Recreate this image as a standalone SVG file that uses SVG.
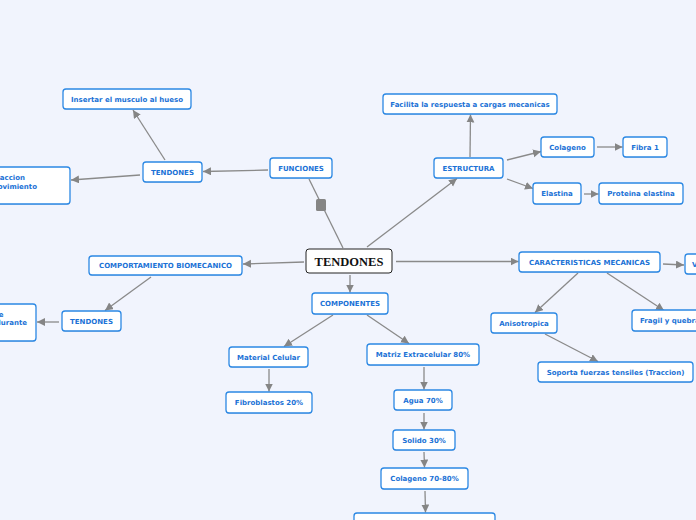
<svg xmlns="http://www.w3.org/2000/svg" width="696" height="520" viewBox="0 0 696 520">
<defs>
<marker id="ah" markerUnits="userSpaceOnUse" markerWidth="9" markerHeight="9" refX="8" refY="4" orient="auto">
<path d="M0,0 L8,4 L0,8 z" fill="#858585"/>
</marker>
</defs>
<style>
.bg{fill:#f1f4fd}
.n rect.s{fill:#9aa6c0;opacity:0.35}
.n rect.b{fill:#ffffff;stroke:#2b88e4;stroke-width:1.3}
.n text{font-family:"DejaVu Sans",Verdana,sans-serif;font-weight:bold;font-size:7px;fill:#1b72d6;text-anchor:middle}
.c line{stroke:#8a8a8a;stroke-width:1.3;fill:none}
.c line.a{marker-end:url(#ah)}
.root rect{fill:#fff;stroke:#222;stroke-width:1}
.root text{font-family:"Liberation Serif","Times New Roman",serif;font-weight:bold;font-size:12.5px;fill:#111;text-anchor:middle}
</style>
<rect class="bg" x="0" y="0" width="696" height="520"/>

<g id="connectors" class="c">
<line x1="309" y1="179" x2="343" y2="248"/>
<line class="a" x1="268" y1="170" x2="203" y2="171.5"/>
<line class="a" x1="165" y1="160" x2="133" y2="110"/>
<line class="a" x1="140" y1="175" x2="71" y2="180"/>
<line class="a" x1="367" y1="247" x2="457" y2="178.5"/>
<line class="a" x1="470" y1="157" x2="470.5" y2="114.5"/>
<line class="a" x1="507" y1="160" x2="541" y2="151.5"/>
<line class="a" x1="507" y1="179" x2="533" y2="188.5"/>
<line class="a" x1="597" y1="147" x2="622.5" y2="147"/>
<line class="a" x1="584" y1="194" x2="598.5" y2="194"/>
<line class="a" x1="304" y1="262" x2="243" y2="264"/>
<line class="a" x1="151" y1="277" x2="105" y2="310.5"/>
<line class="a" x1="59" y1="322" x2="37" y2="322"/>
<line class="a" x1="350" y1="275" x2="350" y2="292.5"/>
<line class="a" x1="333" y1="315" x2="284" y2="346.5"/>
<line class="a" x1="367" y1="315" x2="409" y2="343.5"/>
<line class="a" x1="269" y1="369" x2="269" y2="391.5"/>
<line class="a" x1="424" y1="367" x2="424" y2="389.5"/>
<line class="a" x1="424" y1="413" x2="424" y2="429.5"/>
<line class="a" x1="424" y1="452" x2="424.5" y2="467.5"/>
<line class="a" x1="425" y1="491" x2="425.5" y2="512.5"/>
<line class="a" x1="396" y1="261.5" x2="518.5" y2="261.5"/>
<line class="a" x1="663" y1="264" x2="684" y2="265"/>
<line class="a" x1="578" y1="273" x2="535" y2="312.5"/>
<line class="a" x1="607" y1="273" x2="664" y2="310.5"/>
<line class="a" x1="545" y1="334" x2="598" y2="361.5"/>
</g>
<rect x="316" y="199" width="10" height="12" rx="1.5" fill="#858585"/>

<g id="root" class="root">
<rect x="306" y="249" width="86" height="24" rx="3"/>
<text x="349" y="265.5">TENDONES</text>
</g>

<g id="funciones" class="n"><rect class="s" x="270" y="159" width="62" height="20" rx="3"/><rect class="b" x="270" y="158" width="62" height="20" rx="3"/><text x="301" y="170.5">FUNCIONES</text></g>
<g id="tendones1" class="n"><rect class="s" x="143" y="163" width="59" height="20" rx="3"/><rect class="b" x="143" y="162" width="59" height="20" rx="3"/><text x="172.5" y="174.5">TENDONES</text></g>
<g id="insertar" class="n"><rect class="s" x="63" y="90" width="128" height="20" rx="3"/><rect class="b" x="63" y="89" width="128" height="20" rx="3"/><text x="127" y="101.5">Insertar el musculo al hueso</text></g>
<g id="traccion" class="n"><rect class="s" x="-60" y="168" width="130" height="37" rx="3"/><rect class="b" x="-60" y="167" width="130" height="37" rx="3"/><text x="25" y="179.5" style="text-anchor:end">accion</text><text x="37" y="189" style="text-anchor:end">ovimiento</text></g>

<g id="estructura" class="n"><rect class="s" x="434" y="159" width="69" height="20" rx="3"/><rect class="b" x="434" y="158" width="69" height="20" rx="3"/><text x="468.5" y="170.5">ESTRUCTURA</text></g>
<g id="facilita" class="n"><rect class="s" x="383" y="95" width="174" height="20" rx="3"/><rect class="b" x="383" y="94" width="174" height="20" rx="3"/><text x="470" y="106.5">Facilita la respuesta a cargas mecanicas</text></g>
<g id="colageno" class="n"><rect class="s" x="541" y="138" width="53" height="20" rx="3"/><rect class="b" x="541" y="137" width="53" height="20" rx="3"/><text x="567.5" y="149.5">Colageno</text></g>
<g id="fibra1" class="n"><rect class="s" x="623" y="138" width="44" height="20" rx="3"/><rect class="b" x="623" y="137" width="44" height="20" rx="3"/><text x="645" y="149.5">Fibra 1</text></g>
<g id="elastina" class="n"><rect class="s" x="533" y="184" width="48" height="21" rx="3"/><rect class="b" x="533" y="183" width="48" height="21" rx="3"/><text x="557" y="196">Elastina</text></g>
<g id="proteina" class="n"><rect class="s" x="599" y="184" width="84" height="21" rx="3"/><rect class="b" x="599" y="183" width="84" height="21" rx="3"/><text x="641" y="196">Proteina elastina</text></g>

<g id="comportamiento" class="n"><rect class="s" x="89" y="257" width="153" height="19" rx="3"/><rect class="b" x="89" y="256" width="153" height="19" rx="3"/><text x="165.5" y="268">COMPORTAMIENTO BIOMECANICO</text></g>
<g id="tendones2" class="n"><rect class="s" x="62" y="312" width="59" height="20" rx="3"/><rect class="b" x="62" y="311" width="59" height="20" rx="3"/><text x="91.5" y="323.5">TENDONES</text></g>
<g id="durante" class="n"><rect class="s" x="-60" y="305" width="96" height="37" rx="3"/><rect class="b" x="-60" y="304" width="96" height="37" rx="3"/><text x="3.5" y="316.5" style="text-anchor:end">e</text><text x="27" y="325" style="text-anchor:end">durante</text></g>

<g id="componentes" class="n"><rect class="s" x="312" y="294" width="76" height="21" rx="3"/><rect class="b" x="312" y="293" width="76" height="21" rx="3"/><text x="350" y="306">COMPONENTES</text></g>
<g id="material" class="n"><rect class="s" x="229" y="348" width="79" height="20" rx="3"/><rect class="b" x="229" y="347" width="79" height="20" rx="3"/><text x="268.5" y="359.5">Material Celular</text></g>
<g id="fibroblastos" class="n"><rect class="s" x="226" y="393" width="86" height="21" rx="3"/><rect class="b" x="226" y="392" width="86" height="21" rx="3"/><text x="269" y="405">Fibroblastos 20%</text></g>
<g id="matriz" class="n"><rect class="s" x="367" y="345" width="112" height="21" rx="3"/><rect class="b" x="367" y="344" width="112" height="21" rx="3"/><text x="423" y="357">Matriz Extracelular 80%</text></g>
<g id="agua" class="n"><rect class="s" x="394" y="391" width="58" height="20" rx="3"/><rect class="b" x="394" y="390" width="58" height="20" rx="3"/><text x="423" y="402.5">Agua 70%</text></g>
<g id="solido" class="n"><rect class="s" x="393" y="431" width="62" height="20" rx="3"/><rect class="b" x="393" y="430" width="62" height="20" rx="3"/><text x="424" y="442.5">Solido 30%</text></g>
<g id="colageno2" class="n"><rect class="s" x="381" y="469" width="87" height="21" rx="3"/><rect class="b" x="381" y="468" width="87" height="21" rx="3"/><text x="424.5" y="481">Colageno 70-80%</text></g>
<g id="bottom" class="n"><rect class="s" x="354" y="514" width="141" height="20" rx="3"/><rect class="b" x="354" y="513" width="141" height="20" rx="3"/></g>

<g id="caracteristicas" class="n"><rect class="s" x="519" y="253" width="141" height="20" rx="3"/><rect class="b" x="519" y="252" width="141" height="20" rx="3"/><text x="589.5" y="264.5">CARACTERISTICAS MECANICAS</text></g>
<g id="v" class="n"><rect class="s" x="685" y="255" width="40" height="20" rx="3"/><rect class="b" x="685" y="254" width="40" height="20" rx="3"/><text x="692" y="266.5" style="text-anchor:start">V</text></g>
<g id="fragil" class="n"><rect class="s" x="632" y="311" width="90" height="21" rx="3"/><rect class="b" x="632" y="310" width="90" height="21" rx="3"/><text x="640" y="323" style="text-anchor:start">Fragil y quebra</text></g>
<g id="anisotropica" class="n"><rect class="s" x="491" y="314" width="66" height="20" rx="3"/><rect class="b" x="491" y="313" width="66" height="20" rx="3"/><text x="524" y="325.5">Anisotropica</text></g>
<g id="soporta" class="n"><rect class="s" x="538" y="363" width="155" height="20" rx="3"/><rect class="b" x="538" y="362" width="155" height="20" rx="3"/><text x="615.5" y="374.5">Soporta fuerzas tensiles (Traccion)</text></g>
</svg>
